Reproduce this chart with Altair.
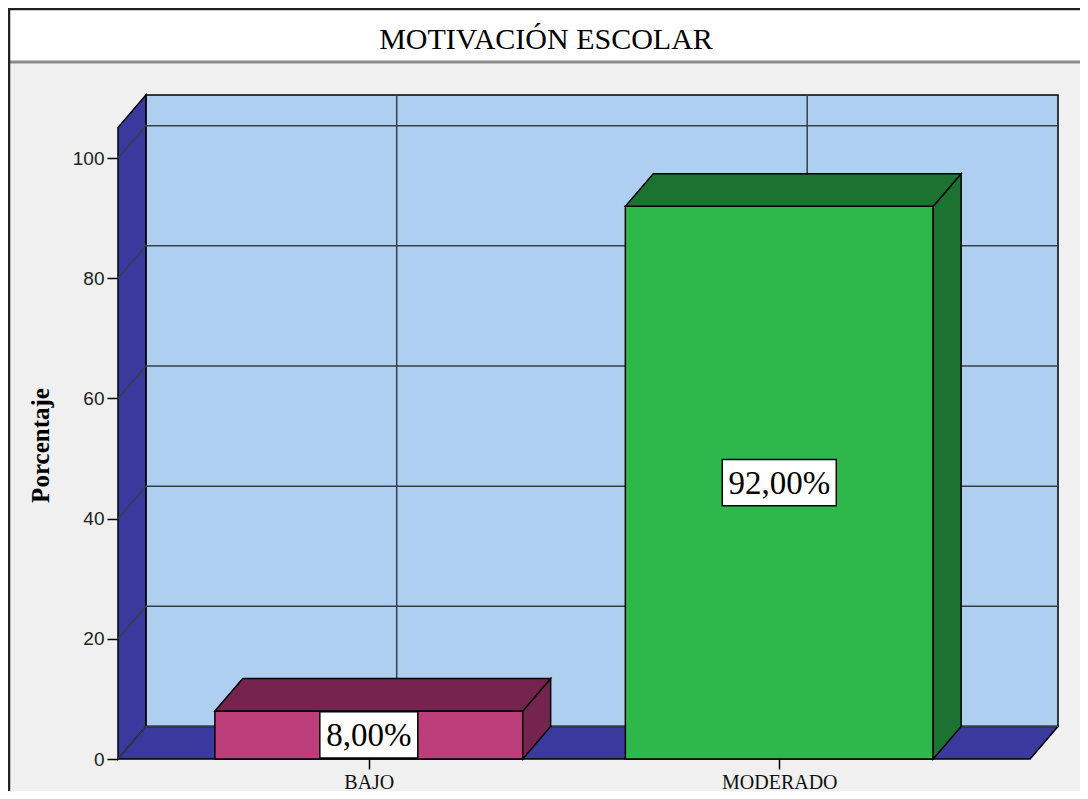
import json
import altair as alt
import pandas as pd

# ---------------- data ----------------
categories = ["BAJO", "MODERADO"]
percentages = [8.0, 92.0]
value_labels = ["8,00%", "92,00%"]
front_colors = ["#bc3e7b", "#2eb84b"]
shade_colors = ["#74244f", "#1c7331"]
y_ticks = [0, 20, 40, 60, 80, 100]
chart_title = "MOTIVACIÓN ESCOLAR"
y_title = "Porcentaje"

# ---------------- layout ----------------
W, H = 940, 664
PAD_L, PAD_T, PAD_R, PAD_B = 110, 87, 22, 32

HALF = 0.375          # half bar width (category units)
X_MIN = -0.611        # left edge of front floor
X_FRONT = 1.611       # right edge of front floor
DX = 0.068            # 3-D depth, horizontal (category units)
DY = 5.4              # 3-D depth, vertical (percent units)
Y_MAX = 110.5
X_MAX = X_FRONT + DX
PX_PER_X = W / (X_MAX - X_MIN)

n = len(categories)

xs = alt.Scale(domain=[X_MIN, X_MAX], nice=False, zero=False)
ys = alt.Scale(domain=[0, Y_MAX], nice=False, zero=False)

label_expr = json.dumps(categories) + "[datum.value]"
x_axis = alt.Axis(values=list(range(n)), labelExpr=label_expr, domain=False, grid=False,
                  ticks=True, tickSize=10, tickColor="black", tickWidth=1.5,
                  labelFont="Liberation Serif", labelFontSize=20, labelColor="#111111",
                  labelPadding=3, labelFlush=False, labelOverlap=False, title=None)
y_axis = alt.Axis(values=y_ticks, domain=False, grid=False, ticks=True, tickSize=11,
                  tickColor="black", tickWidth=1.5, labelFont="Liberation Sans",
                  labelFontSize=19, labelColor="#222222", labelPadding=3,
                  title=y_title, titleFont="Liberation Serif", titleFontSize=25,
                  titleFontWeight="bold", titleColor="black", titleAngle=-90,
                  titleX=-78, titleY=350, titleBaseline="middle", titleAlign="center")


def qx(f):
    return alt.X(f, type="quantitative", scale=xs, axis=x_axis, stack=None)


def qy(f):
    return alt.Y(f, type="quantitative", scale=ys, axis=y_axis, stack=None)


bars = pd.DataFrame({
    "idx": list(range(n)),
    "cat": categories,
    "value": percentages,
    "label": value_labels,
    "front": front_colors,
    "shade": shade_colors,
})

# 3-D faces derived from the data
top_rows, side_rows = [], []
for i, (c, v, col) in enumerate(zip(categories, percentages, shade_colors)):
    top_rows += [
        {"cat": c, "y": v, "xa": i - HALF, "xb": i + HALF, "col": col},
        {"cat": c, "y": v + DY, "xa": i - HALF + DX, "xb": i + HALF + DX, "col": col},
    ]
    side_rows += [
        {"cat": c, "x": i + HALF, "ya": 0.0, "yb": v, "col": col},
        {"cat": c, "x": i + HALF + DX, "ya": DY, "yb": v + DY, "col": col},
    ]
top_df = pd.DataFrame(top_rows)
side_df = pd.DataFrame(side_rows)

left_wall = pd.DataFrame([
    {"x": X_MIN, "ya": 0.0, "yb": Y_MAX - DY},
    {"x": X_MIN + DX, "ya": DY, "yb": Y_MAX},
])
floor = pd.DataFrame([
    {"y": 0.0, "xa": X_MIN, "xb": X_FRONT},
    {"y": DY, "xa": X_MIN + DX, "xb": X_MAX},
])
back_wall = pd.DataFrame([{"xa": X_MIN + DX, "xb": X_MAX, "ya": DY, "yb": Y_MAX}])

grid_rows = []
for v in y_ticks:
    grid_rows += [
        {"g": v, "k": 0, "x": X_MIN, "y": v},
        {"g": v, "k": 1, "x": X_MIN + DX, "y": v + DY},
        {"g": v, "k": 2, "x": X_MAX, "y": v + DY},
    ]
grid_df = pd.DataFrame(grid_rows)
vgrid_df = pd.DataFrame({"x": [i + DX for i in range(n)], "ya": DY, "yb": Y_MAX})

WALL = "#3a3a9e"
BACK = "#aecff0"
GRID = "#34404e"

back = alt.Chart(back_wall).mark_rect(fill=BACK, stroke="black", strokeWidth=1.5).encode(
    x=qx("xa"), x2="xb", y=qy("ya"), y2="yb")
lwall = alt.Chart(left_wall).mark_area(orient="vertical", fill=WALL, stroke="black",
                                       strokeWidth=1.5).encode(x=qx("x"), y=qy("ya"), y2="yb")
flr = alt.Chart(floor).mark_area(orient="horizontal", fill=WALL, stroke="black",
                                 strokeWidth=1.5).encode(y=qy("y"), x=qx("xa"), x2="xb")
grid = alt.Chart(grid_df).mark_line(color=GRID, strokeWidth=1.5).encode(
    x=qx("x"), y=qy("y"), detail="g:N", order="k:Q")
vgrid = alt.Chart(vgrid_df).mark_rule(color=GRID, strokeWidth=1.5).encode(
    x=qx("x"), y=qy("ya"), y2="yb")

front = alt.Chart(bars).transform_calculate(
    x0=f"datum.idx - {HALF}", x1=f"datum.idx + {HALF}", base="0"
).mark_rect(stroke="black", strokeWidth=1.5).encode(
    x=qx("x0"),
    x2="x1:Q",
    y=qy("base"),
    y2="value:Q",
    color=alt.Color("front:N", scale=None),
)
top = alt.Chart(top_df).mark_area(orient="horizontal", stroke="black", strokeWidth=1.5).encode(
    y=qy("y"), x=qx("xa"), x2="xb", detail="cat:N", color=alt.Color("col:N", scale=None))
side = alt.Chart(side_df).mark_area(orient="vertical", stroke="black", strokeWidth=1.5).encode(
    x=qx("x"), y=qy("ya"), y2="yb", detail="cat:N", color=alt.Color("col:N", scale=None))

box = alt.Chart(bars).transform_calculate(
    bw=f"(16 * length(datum.label) + 18) / {PX_PER_X} / 2",
).transform_calculate(
    bx0="datum.idx - datum.bw", bx1="datum.idx + datum.bw",
    by0="datum.value / 2 - 3.85", by1="datum.value / 2 + 3.85",
).mark_rect(fill="white", stroke="black", strokeWidth=1.5).encode(
    x=qx("bx0"), x2="bx1", y=qy("by0"), y2="by1")
txt = alt.Chart(bars).transform_calculate(mid="datum.value / 2").mark_text(
    font="Liberation Serif", fontSize=33, color="black", baseline="middle", align="center", dy=1
).encode(x=qx("idx"), y=qy("mid"), text="label:N")

# frame / title band decoration
deco_df = pd.DataFrame({"t": [chart_title]})
band = alt.Chart(deco_df).mark_rect(fill="white").encode(
    x=alt.value(-PAD_L), x2=alt.value(W + PAD_R), y=alt.value(-PAD_T), y2=alt.value(-34))
band_line = alt.Chart(deco_df).mark_rule(color="#8c8c8c", strokeWidth=3).encode(
    x=alt.value(-PAD_L), x2=alt.value(W + PAD_R), y=alt.value(-33))
top_border = alt.Chart(deco_df).mark_rule(color="#222222", strokeWidth=2.5).encode(
    x=alt.value(-PAD_L), x2=alt.value(W + PAD_R), y=alt.value(-PAD_T + 1))
left_border = alt.Chart(deco_df).mark_rule(color="#222222", strokeWidth=2.5).encode(
    x=alt.value(-PAD_L + 1), y=alt.value(-PAD_T), y2=alt.value(H + PAD_B))
title = alt.Chart(deco_df).mark_text(
    font="Liberation Serif", fontSize=30, color="black", baseline="middle", align="center"
).encode(x=alt.value(428), y=alt.value(-55), text="t:N")

chart = alt.layer(
    band, band_line, top_border, left_border, title,
    back, lwall, flr, grid, vgrid,
    front, side, top, box, txt,
).properties(
    width=W, height=H,
    padding={"left": PAD_L, "top": PAD_T, "right": PAD_R, "bottom": PAD_B},
    autosize="none",
    background="#f0f0f0",
).configure_view(stroke=None)

chart.save("out.html", embed_options={"renderer": "svg", "actions": False})
